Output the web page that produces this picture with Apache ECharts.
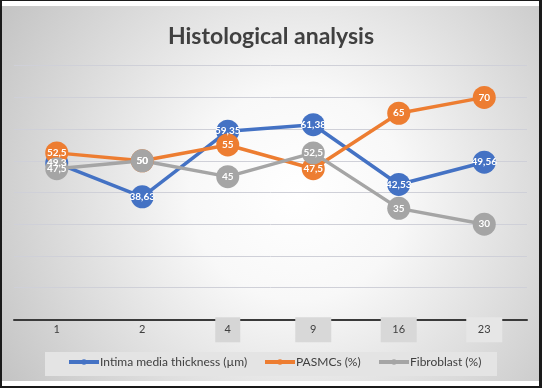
<!DOCTYPE html>
<html>
<head>
<meta charset="utf-8">
<script src="https://cdn.jsdelivr.net/npm/echarts@6/dist/echarts.min.js"></script>
<style>
html,body{margin:0;padding:0;background:#fff;}
#c{width:542px;height:388px;}
</style>
</head>
<body>
<div id="c"></div>
<script>
const categories = ['1', '2', '4', '9', '16', '23'];
const intima = [49.3, 38.63, 59.35, 61.38, 42.53, 49.56];
const pasmcs = [52.5, 50, 55, 47.5, 65, 70];
const fibroblast = [47.5, 50, 45, 52.5, 35, 30];
const seriesNames = ['Intima media thickness (µm)', 'PASMCs (%)', 'Fibroblast (%)'];
const titleText = 'Histological analysis';
const yMin = 0, yMax = 80, yStep = 10;

const labelBoxKeys = ['n', 'n', 's', 'w', 'w', 'f'];
const legendLefts = [67, 263, 377];
const colors = ['#4472C4', '#ED7D31', '#A5A5A5'];
const FONT = 'Lato';

const chart = echarts.init(document.getElementById('c'), null, {renderer: 'canvas'});

function mkSeries(name, data, color) {
  return {
    name: name,
    type: 'line',
    data: data,
    symbol: 'circle',
    symbolSize: 23,
    lineStyle: {color: color, width: 3.5},
    itemStyle: {color: color},
    label: {
      show: true,
      position: 'inside',
      color: '#fff',
      fontFamily: FONT,
      fontWeight: 'bold',
      fontSize: 10,
      formatter: p => String(p.value).replace('.', ',')
    },
    emphasis: {disabled: true},
    animation: false
  };
}

const option = {
  animation: false,
  backgroundColor: '#ffffff',
  graphic: [
    {type: 'rect', z: -100, silent: true, shape: {x: 0, y: 0, width: 542, height: 388}, style: {fill: '#1a1a1a'}},
    {type: 'rect', z: -99, silent: true, shape: {x: 2, y: 1, width: 537, height: 385}, style: {fill: '#ffffff'}},
    {type: 'rect', z: -98, silent: true, shape: {x: 2, y: 6, width: 537, height: 375},
      style: {fill: new echarts.graphic.RadialGradient(0.55, 0.5, 0.95, [
        {offset: 0, color: '#ffffff'},
        {offset: 0.3, color: '#f8f8f8'},
        {offset: 0.65, color: '#dddddd'},
        {offset: 1, color: '#c2c2c2'}
      ])}},
    {type: 'rect', z: -97, silent: true, shape: {x: 45, y: 352, width: 452, height: 24}, style: {fill: '#e4e4e4'}}
  ],
  title: {
    text: titleText,
    left: 'center',
    top: 20,
    textStyle: {fontFamily: FONT, fontWeight: 'bold', fontSize: 23, color: '#404040'}
  },
  legend: seriesNames.map((n, i) => ({
    data: [n],
    left: legendLefts[i],
    top: 356,
    padding: 0,
    itemWidth: 30,
    itemHeight: 7,
    lineStyle: {width: 4},
    textStyle: {fontFamily: FONT, fontSize: 12, color: '#404040', padding: [0, 0, 0, -4]}
  })),
  grid: {left: 14, right: 15, top: 65.7, bottom: 68.7, containLabel: false},
  xAxis: {
    type: 'category',
    data: categories,
    boundaryGap: true,
    axisTick: {show: false},
    axisLine: {lineStyle: {color: '#3a3a3a', width: 2}},
    axisLabel: {
      margin: 4,
      formatter: (v, i) => '{' + labelBoxKeys[i] + '|' + v + '}',
      rich: {
        n: {fontFamily: FONT, fontSize: 11, color: '#404040', lineHeight: 13, padding: [7, 0], width: 25, align: 'center'},
        s: {fontFamily: FONT, fontSize: 11, color: '#404040', lineHeight: 13, padding: [7, 0], width: 25, align: 'center', backgroundColor: '#d6d6d6'},
        w: {fontFamily: FONT, fontSize: 11, color: '#404040', lineHeight: 13, padding: [7, 0], width: 36, align: 'center', backgroundColor: '#d8d8d8'},
        f: {fontFamily: FONT, fontSize: 11, color: '#404040', lineHeight: 13, padding: [7, 0], width: 36, align: 'center', backgroundColor: '#e6e6e6'}
      }
    },
    splitLine: {show: false}
  },
  yAxis: {
    type: 'value',
    min: yMin,
    max: yMax,
    interval: yStep,
    axisLabel: {show: false},
    axisLine: {show: false},
    axisTick: {show: false},
    splitLine: {lineStyle: {color: '#cfd0d8', width: 1}}
  },
  series: [
    mkSeries(seriesNames[0], intima, colors[0]),
    mkSeries(seriesNames[1], pasmcs, colors[1]),
    mkSeries(seriesNames[2], fibroblast, colors[2])
  ]
};
chart.setOption(option);
</script>
</body>
</html>
